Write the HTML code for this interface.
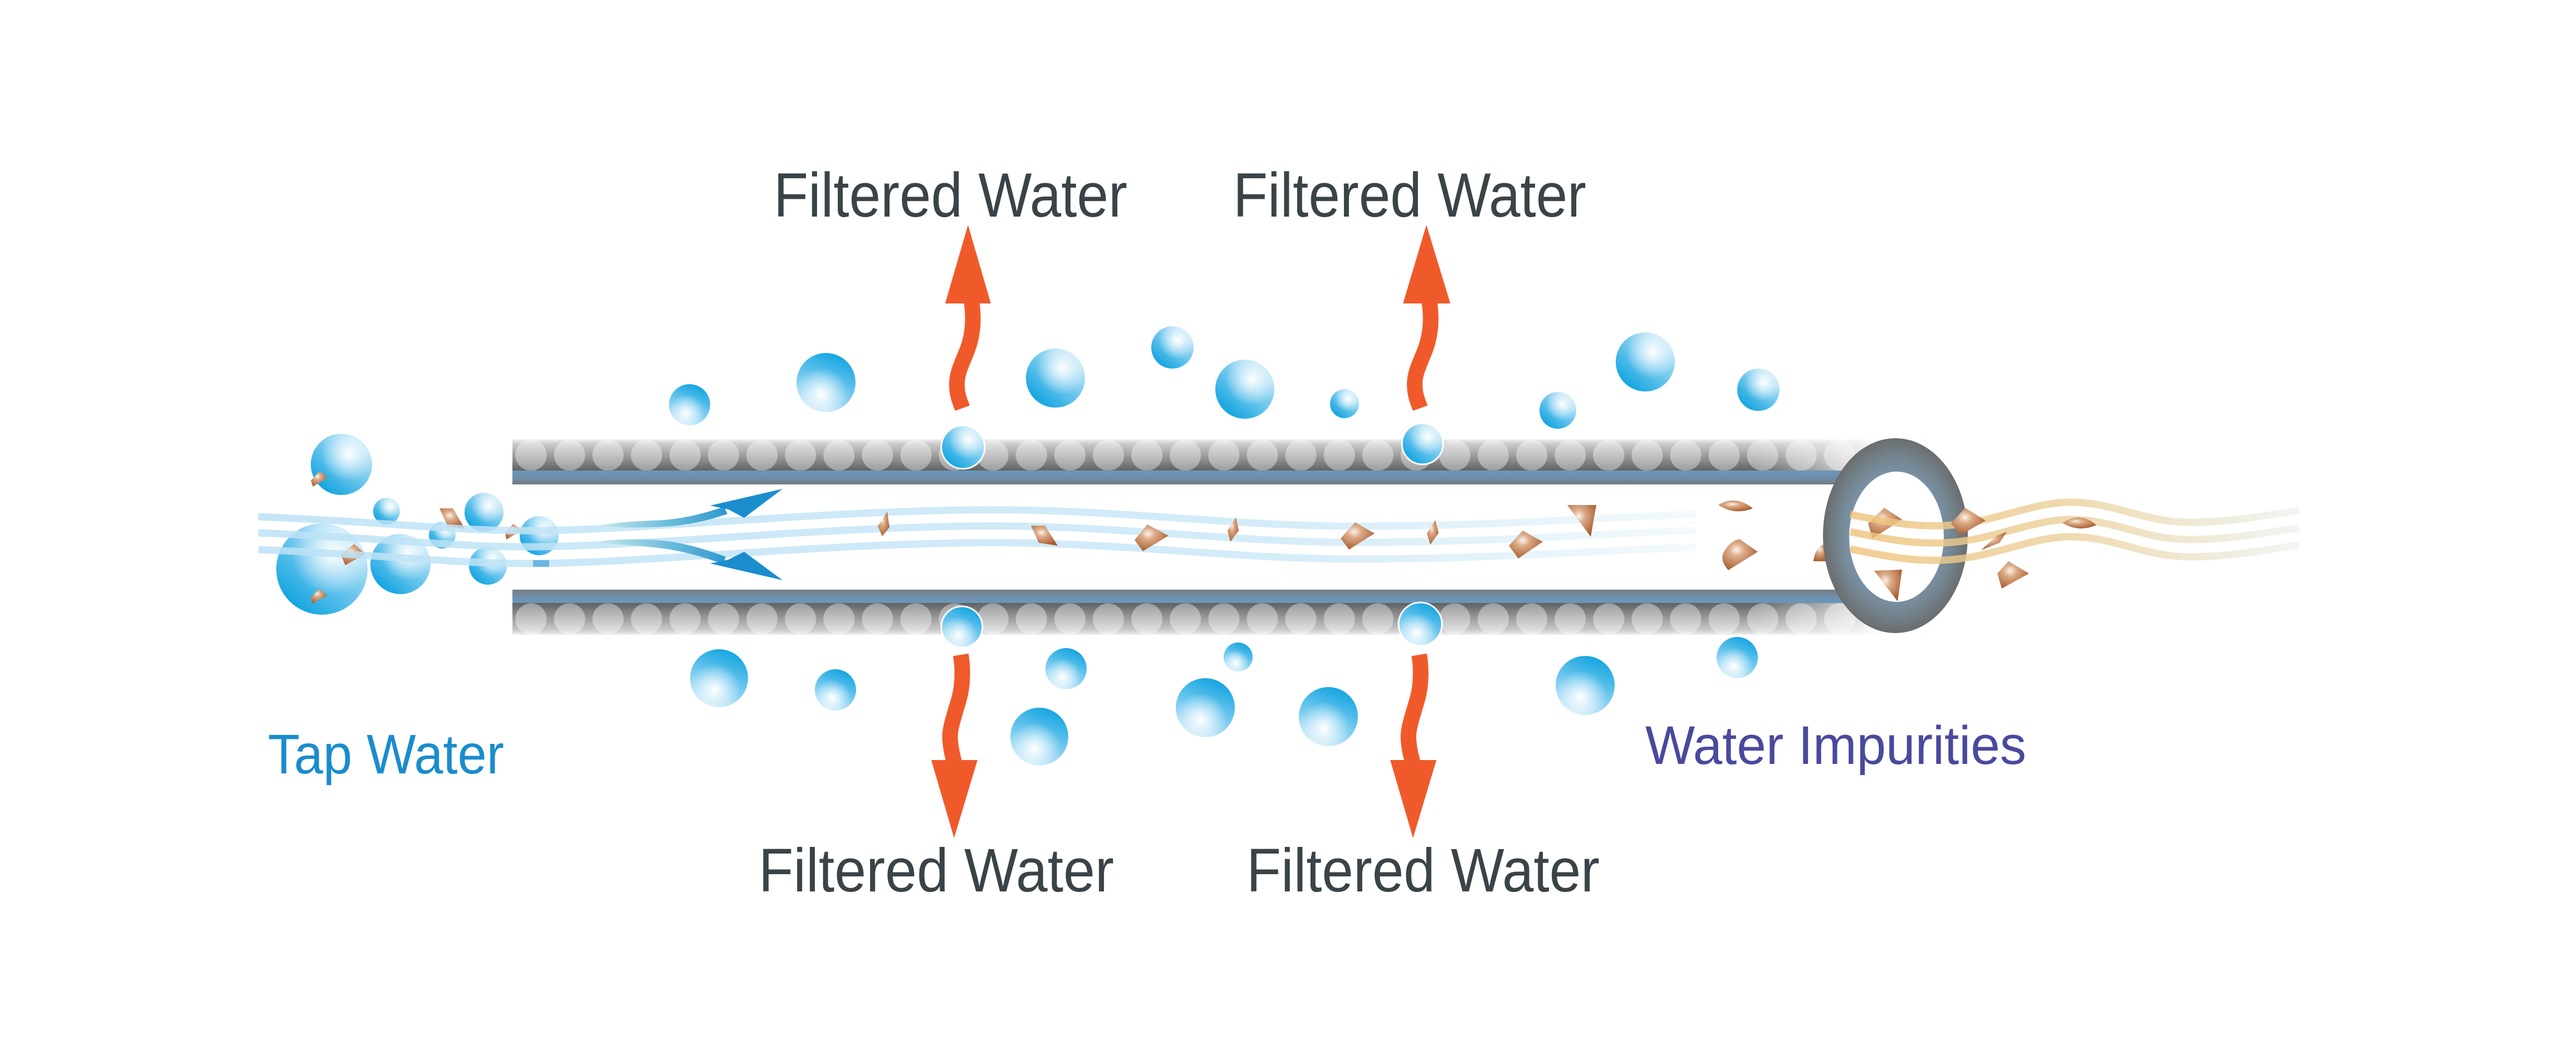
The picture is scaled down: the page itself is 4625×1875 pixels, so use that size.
<!DOCTYPE html>
<html><head><meta charset="utf-8">
<style>html,body{margin:0;padding:0;background:#fff}svg{display:block}</style></head>
<body>
<svg xmlns="http://www.w3.org/2000/svg" width="4625" height="1875" viewBox="0 0 4625 1875">
<defs>
  <linearGradient id="beadT" x1="0" y1="0" x2="0" y2="1">
    <stop offset="0" stop-color="#efefef"/><stop offset="0.15" stop-color="#cacaca"/><stop offset="1" stop-color="#606060"/>
  </linearGradient>
  <linearGradient id="beadB" x1="0" y1="0" x2="0" y2="1">
    <stop offset="0" stop-color="#606060"/><stop offset="0.85" stop-color="#cacaca"/><stop offset="1" stop-color="#efefef"/>
  </linearGradient>
  <pattern id="bpT" patternUnits="userSpaceOnUse" x="918.95" y="789" width="69.1" height="57">
    <circle cx="34.55" cy="28.5" r="28" fill="#fff" fill-opacity="0.38"/>
  </pattern>
  <pattern id="bpB" patternUnits="userSpaceOnUse" x="918.95" y="1083" width="69.1" height="57">
    <circle cx="34.55" cy="28.5" r="28" fill="#fff" fill-opacity="0.38"/>
  </pattern>
  <linearGradient id="stripT" x1="0" y1="0" x2="0" y2="1">
    <stop offset="0" stop-color="#6a97bb"/><stop offset="0.5" stop-color="#6e8fac"/><stop offset="1" stop-color="#75797d"/>
  </linearGradient>
  <linearGradient id="stripB" x1="0" y1="0" x2="0" y2="1">
    <stop offset="0" stop-color="#787b80"/><stop offset="0.5" stop-color="#6f8fac"/><stop offset="1" stop-color="#6a97bb"/>
  </linearGradient>
  <linearGradient id="fadeR" x1="0" y1="0" x2="1" y2="0">
    <stop offset="0" stop-color="#fff" stop-opacity="0"/><stop offset="1" stop-color="#fff" stop-opacity="0.95"/>
  </linearGradient>
  <linearGradient id="streamG" gradientUnits="userSpaceOnUse" x1="464" y1="0" x2="3045" y2="0">
    <stop offset="0" stop-color="#bce2f6"/><stop offset="0.7" stop-color="#cde9f8"/><stop offset="1" stop-color="#f2f9fd"/>
  </linearGradient>
  <linearGradient id="goldG" gradientUnits="userSpaceOnUse" x1="3320" y1="0" x2="4130" y2="0">
    <stop offset="0" stop-color="#efc47c"/><stop offset="0.45" stop-color="#ecd09a"/><stop offset="1" stop-color="#eef4f1"/>
  </linearGradient>
  <linearGradient id="arrowG" gradientUnits="userSpaceOnUse" x1="1079" y1="0" x2="1340" y2="0">
    <stop offset="0" stop-color="#c2e7ec"/><stop offset="0.45" stop-color="#6fbddc"/><stop offset="1" stop-color="#1a8dcd"/>
  </linearGradient>
  <linearGradient id="uL" x1="0.15" y1="0.9" x2="0.85" y2="0.1">
    <stop offset="0" stop-color="#0fa3df"/><stop offset="0.45" stop-color="#62c2ec"/><stop offset="1" stop-color="#c4e8f8"/>
  </linearGradient>
  <radialGradient id="uH" cx="0.62" cy="0.33" r="0.45">
    <stop offset="0" stop-color="#fff" stop-opacity="1"/><stop offset="0.4" stop-color="#fff" stop-opacity="0.6"/><stop offset="1" stop-color="#fff" stop-opacity="0"/>
  </radialGradient>
  <linearGradient id="dL" x1="0.7" y1="0" x2="0.3" y2="1">
    <stop offset="0" stop-color="#0fa3df"/><stop offset="0.5" stop-color="#6cc6ee"/><stop offset="1" stop-color="#c8e9f9"/>
  </linearGradient>
  <radialGradient id="dH" cx="0.42" cy="0.7" r="0.45">
    <stop offset="0" stop-color="#fff" stop-opacity="1"/><stop offset="0.4" stop-color="#fff" stop-opacity="0.6"/><stop offset="1" stop-color="#fff" stop-opacity="0"/>
  </radialGradient>
  <radialGradient id="br" cx="0.4" cy="0.35" r="0.7">
    <stop offset="0" stop-color="#fdf3ea"/><stop offset="0.3" stop-color="#dcab88"/><stop offset="1" stop-color="#a5582b"/>
  </radialGradient>
  <radialGradient id="ringG" cx="0.5" cy="0.5" r="0.5">
    <stop offset="0.6" stop-color="#7b95ad"/><stop offset="0.8" stop-color="#74858f"/><stop offset="1" stop-color="#6a6d6f"/>
  </radialGradient>
</defs>

<rect width="4625" height="1875" fill="#fff"/>

<!-- Tube -->
<rect x="920" y="789" width="2480" height="57" fill="url(#beadT)"/>
<rect x="920" y="789" width="2480" height="57" fill="url(#bpT)"/>
<rect x="3150" y="789" width="250" height="57" fill="url(#fadeR)"/>
<rect x="920" y="845" width="2410" height="25" fill="url(#stripT)"/>
<rect x="920" y="1059" width="2410" height="25" fill="url(#stripB)"/>
<rect x="920" y="1083" width="2480" height="57" fill="url(#beadB)"/>
<rect x="920" y="1083" width="2480" height="57" fill="url(#bpB)"/>
<rect x="3150" y="1083" width="250" height="57" fill="url(#fadeR)"/>

<!-- Left cluster bubbles (under streams) -->
<g>
  <circle cx="613" cy="834" r="55" fill="url(#uL)"/><circle cx="613" cy="834" r="55" fill="url(#uH)"/>
  <circle cx="578" cy="1022" r="82" fill="url(#uL)"/><circle cx="578" cy="1022" r="82" fill="url(#uH)"/>
  <circle cx="719" cy="1013" r="54" fill="url(#uL)"/><circle cx="719" cy="1013" r="54" fill="url(#uH)"/>
  <circle cx="694" cy="918" r="24" fill="url(#uL)"/><circle cx="694" cy="918" r="24" fill="url(#uH)"/>
  <circle cx="794" cy="961" r="24" fill="url(#uL)"/><circle cx="794" cy="961" r="24" fill="url(#uH)"/>
  <circle cx="869" cy="920" r="35" fill="url(#uL)"/><circle cx="869" cy="920" r="35" fill="url(#uH)"/>
  <circle cx="876" cy="1016" r="34" fill="url(#uL)"/><circle cx="876" cy="1016" r="34" fill="url(#uH)"/>
  <circle cx="968" cy="962" r="35" fill="url(#uL)"/><circle cx="968" cy="962" r="35" fill="url(#uH)"/>
</g>

<!-- Left cluster particles -->
<g fill="url(#br)">
  <polygon points="574,846 588,858 562,874 558,863"/>
  <polygon points="636,977 656,995 620,1015 612,997"/>
  <polygon points="574,1057 587,1070 560,1084 558,1073"/>
  <polygon points="789,913 813,913 835,950 804,945"/>
  <polygon points="921,941 938,952 909,969 907,957"/>
</g>

<!-- Water streams -->
<g fill="none" stroke="url(#streamG)" stroke-width="13" opacity="0.85">
  <path d="M464,928 C700,938 820,954 957,953 C1150,952 1450,920 1733,916 C2000,912 2200,945 2433,945 C2700,945 2900,927 3045,924"/>
  <path d="M464,957 C700,967 820,983 957,982 C1150,981 1450,949 1733,945 C2000,941 2200,974 2433,974 C2700,974 2900,956 3045,953"/>
  <path d="M464,987 C700,997 820,1013 957,1012 C1150,1011 1450,979 1733,975 C2000,971 2200,1004 2433,1004 C2700,1004 2900,986 3045,983"/>
</g>
<rect x="957" y="1006" width="29" height="12" fill="#6eb6e3"/>

<!-- Blue flow arrows -->
<path d="M1079,944 C1110,937 1150,936 1190,934 C1230,931 1265,922 1300,910 L1306,923 C1268,936 1230,944 1190,946 C1150,948 1110,948 1079,944 Z" fill="url(#arrowG)"/>
<path d="M1405,878 L1275,908 L1308,915 L1336,930 Z" fill="#1a8dcd"/>
<path d="M1079,972 C1110,968 1150,967 1190,971 C1230,975 1268,987 1303,1000 L1298,1013 C1262,1000 1228,990 1190,985 C1150,980 1110,978 1079,974 Z" fill="url(#arrowG)"/>
<path d="M1405,1042 L1275,1012 L1308,1005 L1336,991 Z" fill="#1a8dcd"/>

<!-- Tube interior particles -->
<g fill="url(#br)">
  <polygon points="1593,919 1597,947 1584,963 1576,945"/>
  <polygon points="1851,944 1876,944 1899,980 1865,975"/>
  <polygon points="2060,942 2098,962 2052,990 2037,970"/>
  <polygon points="2219,929 2224,953 2209,973 2204,953"/>
  <polygon points="2433,938 2468,958 2422,987 2407,967"/>
  <polygon points="2577,934 2583,957 2568,978 2562,958"/>
  <polygon points="2734,953 2770,973 2726,1003 2709,980"/>
  <polygon points="2814,907 2866,907 2856,964"/>
  <path d="M3085,907 Q3115,888 3147,913 Q3115,926 3085,907 Z"/>
  <path d="M3123,968 L3156,991 L3103,1024 Q3086,1004 3096,990 Q3106,972 3123,968 Z"/>
  <path d="M3256,1008 Q3258,982 3280,975 L3284,1008 Z"/>
</g>

<!-- Ring -->
<path fill-rule="evenodd" fill="url(#ringG)" d="M3273,962 a130,175 0 1,0 260,0 a130,175 0 1,0 -260,0 Z M3320,964 a85,117 0 1,0 170,0 a85,117 0 1,0 -170,0 Z"/>

<!-- Particles inside ring -->
<g fill="url(#br)">
  <polygon points="3383,912 3415,933 3362,967 3354,940"/>
  <polygon points="3365,1025 3415,1023 3407,1080"/>
</g>

<!-- Gold impurity streams -->
<g fill="none" stroke="url(#goldG)" stroke-width="13" opacity="0.82">
  <path d="M3322,924 C3400,940 3440,946 3490,944 C3580,940 3650,900 3723,902 C3800,904 3850,937 3927,938 C4000,939 4070,925 4128,917"/>
  <path d="M3322,955 C3400,971 3440,977 3490,975 C3580,971 3650,931 3723,933 C3800,935 3850,968 3927,969 C4000,970 4070,956 4128,948"/>
  <path d="M3322,986 C3400,1002 3440,1008 3490,1006 C3580,1002 3650,962 3723,964 C3800,966 3850,999 3927,1000 C4000,1001 4070,987 4128,979"/>
</g>

<g fill="url(#br)">
  <polygon points="3528,912 3565,935 3520,961 3503,940"/>
  <polygon points="3557,988 3585,962 3603,955 3590,975"/>
  <path d="M3703,939 Q3735,918 3764,943 Q3732,957 3703,939 Z"/>
  <polygon points="3606,1008 3643,1030 3594,1057 3586,1030"/>
</g>

<!-- Outer bubbles -->
<g>
  <circle cx="1238" cy="727" r="37" fill="url(#dL)"/><circle cx="1238" cy="727" r="37" fill="url(#dH)"/>
  <circle cx="1483" cy="687" r="53" fill="url(#dL)"/><circle cx="1483" cy="687" r="53" fill="url(#dH)"/>
  <circle cx="1895" cy="679" r="53" fill="url(#uL)"/><circle cx="1895" cy="679" r="53" fill="url(#uH)"/>
  <circle cx="2105" cy="624" r="38" fill="url(#uL)"/><circle cx="2105" cy="624" r="38" fill="url(#uH)"/>
  <circle cx="2235" cy="699" r="53" fill="url(#uL)"/><circle cx="2235" cy="699" r="53" fill="url(#uH)"/>
  <circle cx="2414" cy="725" r="26" fill="url(#uL)"/><circle cx="2414" cy="725" r="26" fill="url(#uH)"/>
  <circle cx="2797" cy="737" r="33" fill="url(#uL)"/><circle cx="2797" cy="737" r="33" fill="url(#uH)"/>
  <circle cx="2954" cy="650" r="53" fill="url(#uL)"/><circle cx="2954" cy="650" r="53" fill="url(#uH)"/>
  <circle cx="3157" cy="700" r="38" fill="url(#uL)"/><circle cx="3157" cy="700" r="38" fill="url(#uH)"/>

  <circle cx="1291" cy="1218" r="52" fill="url(#dL)"/><circle cx="1291" cy="1218" r="52" fill="url(#dH)"/>
  <circle cx="1500" cy="1239" r="37" fill="url(#dL)"/><circle cx="1500" cy="1239" r="37" fill="url(#dH)"/>
  <circle cx="1914" cy="1201" r="37" fill="url(#dL)"/><circle cx="1914" cy="1201" r="37" fill="url(#dH)"/>
  <circle cx="1866" cy="1323" r="52" fill="url(#dL)"/><circle cx="1866" cy="1323" r="52" fill="url(#dH)"/>
  <circle cx="2223" cy="1180" r="26" fill="url(#dL)"/><circle cx="2223" cy="1180" r="26" fill="url(#dH)"/>
  <circle cx="2164" cy="1271" r="53" fill="url(#dL)"/><circle cx="2164" cy="1271" r="53" fill="url(#dH)"/>
  <circle cx="2385" cy="1287" r="53" fill="url(#dL)"/><circle cx="2385" cy="1287" r="53" fill="url(#dH)"/>
  <circle cx="2846" cy="1231" r="53" fill="url(#dL)"/><circle cx="2846" cy="1231" r="53" fill="url(#dH)"/>
  <circle cx="3119" cy="1181" r="37" fill="url(#dL)"/><circle cx="3119" cy="1181" r="37" fill="url(#dH)"/>

  <!-- bubbles passing through the membrane -->
  <circle cx="1729" cy="803" r="39" fill="url(#uL)"/><circle cx="1729" cy="803" r="39" fill="url(#uH)" stroke="#fff" stroke-width="3"/>
  <circle cx="2554" cy="797" r="37" fill="url(#uL)"/><circle cx="2554" cy="797" r="37" fill="url(#uH)" stroke="#fff" stroke-width="3"/>
  <circle cx="1727" cy="1126" r="37" fill="url(#dL)"/><circle cx="1727" cy="1126" r="37" fill="url(#dH)" stroke="#fff" stroke-width="3"/>
  <circle cx="2550" cy="1121" r="39" fill="url(#dL)"/><circle cx="2550" cy="1121" r="39" fill="url(#dH)" stroke="#fff" stroke-width="3"/>
</g>

<!-- Orange arrows -->
<g fill="none" stroke="#f05a2b" stroke-width="28">
  <path d="M1744,540 C1749,570 1747,600 1738,625 C1728,652 1718,668 1718,690 C1718,710 1724,722 1728,733"/>
  <path d="M2566,540 C2571,570 2569,600 2560,625 C2550,652 2540,668 2540,690 C2540,710 2546,722 2550,733"/>
  <path d="M1725,1176 C1729,1200 1729,1230 1722,1255 C1712,1290 1704,1310 1706,1330 C1707,1345 1710,1356 1713,1368"/>
  <path d="M2548,1176 C2552,1200 2552,1230 2545,1255 C2535,1290 2527,1310 2529,1330 C2530,1345 2533,1356 2536,1368"/>
</g>
<g fill="#f05a2b">
  <polygon points="1738,404 1779,545 1697,545"/>
  <polygon points="2561,404 2604,545 2519,545"/>
  <polygon points="1672,1365 1755,1365 1713,1505"/>
  <polygon points="2496,1365 2579,1365 2537,1505"/>
</g>

<!-- Labels -->
<g font-family="'Liberation Sans', Arial, sans-serif">
  <text x="1389" y="389" font-size="112" fill="#3a4347" textLength="635" lengthAdjust="spacingAndGlyphs">Filtered Water</text>
  <text x="2214" y="389" font-size="112" fill="#3a4347" textLength="634" lengthAdjust="spacingAndGlyphs">Filtered Water</text>
  <text x="1362" y="1601" font-size="110" fill="#3a4347" textLength="638" lengthAdjust="spacingAndGlyphs">Filtered Water</text>
  <text x="2238" y="1601" font-size="110" fill="#3a4347" textLength="634" lengthAdjust="spacingAndGlyphs">Filtered Water</text>
  <text x="481" y="1389" font-size="100" fill="#1a8ccd" textLength="424" lengthAdjust="spacingAndGlyphs">Tap Water</text>
  <text x="2954" y="1372" font-size="97" fill="#49499d" textLength="684" lengthAdjust="spacingAndGlyphs">Water Impurities</text>
</g>
</svg>
</body></html>
